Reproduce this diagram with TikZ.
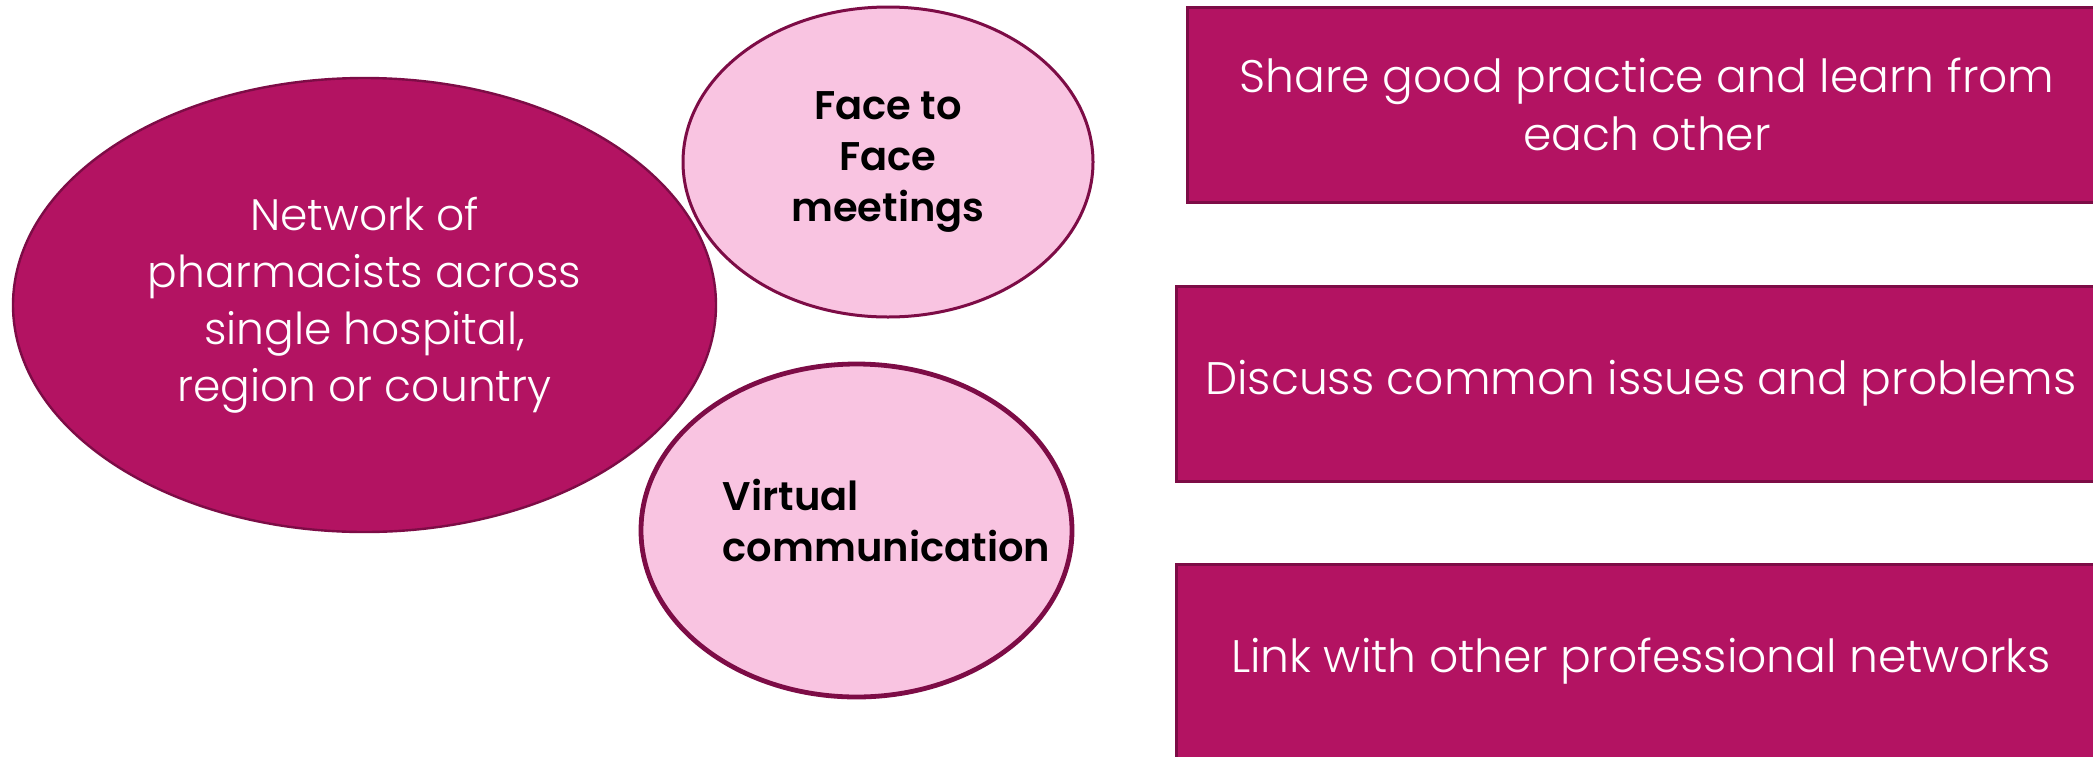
\documentclass[tikz,border=0pt]{standalone}
\usepackage{fontspec}
\setmainfont{Poppins}[UprightFont=* Light, BoldFont=* SemiBold]
\usetikzlibrary{shapes.geometric}
\definecolor{mag}{RGB}{179,19,98}
\definecolor{magdark}{RGB}{125,12,70}
\definecolor{pinkfill}{RGB}{249,196,225}
\begin{document}
\begin{tikzpicture}[x=0.5pt,y=-0.5pt,
  bigell/.style={ellipse, draw=magdark, line width=1.2pt, fill=mag, inner sep=0pt,
    text=white, align=center, font=\fontsize{22}{28.5}\selectfont},
  smallell/.style={ellipse, draw=magdark, line width=1.5pt, fill=pinkfill, inner sep=0pt,
    text=black, align=center, font=\bfseries\fontsize{20}{25.5}\selectfont},
  btext/.style={text=black, align=left, inner sep=0pt, font=\bfseries\fontsize{20}{25.5}\selectfont},
  rbox/.style={rectangle, draw=magdark, line width=1.5pt, fill=mag, inner sep=0pt,
    minimum height=97.5pt, text=white, align=center, font=\fontsize{22.8}{29}\selectfont}]
\useasboundingbox (0,0) rectangle (2093,756);
\fill[white] (0,0) rectangle (2093,756);

\node[bigell, minimum width=351.5pt, minimum height=227pt] (net) at (364.5,305)
  {Network of\\pharmacists across\\single hospital,\\region or country};

\node[smallell, minimum width=205pt, minimum height=155pt] (face) at (888,162)
  {Face to\\Face\\meetings};

\node[smallell, line width=2.4pt, minimum width=215.5pt, minimum height=166.5pt] (virt) at (856.5,530.5) {};
\node[btext, anchor=west] (virttext) at ([xshift=-67pt,yshift=5pt]virt.center)
  {Virtual\\communication};

\node[rbox, minimum width=460pt] (share) at (1647,104.5)
  {Share good practice and learn from\\each other};
\node[rbox, minimum width=465pt] (discuss) at (1641,383.5)
  {Discuss common issues and problems};
\node[rbox, minimum width=465pt] (link) at (1641,661.5)
  {Link with other professional networks};
\end{tikzpicture}
\end{document}
